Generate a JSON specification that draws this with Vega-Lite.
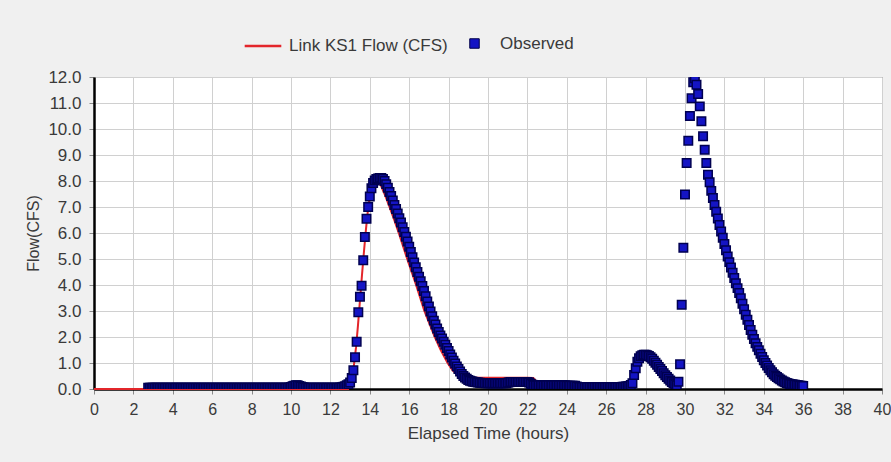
{
  "$schema": "https://vega.github.io/schema/vega-lite/v6.json",
  "width": 788,
  "height": 312,
  "autosize": {"type": "none"},
  "padding": {"left": 94, "top": 77, "right": 9, "bottom": 73},
  "background": "#f0f0f0",
  "config": {
    "view": {"fill": "white", "stroke": "#606060", "strokeWidth": 1},
    "font": "Liberation Sans",
    "axis": {
      "labelFont": "Liberation Sans",
      "titleFont": "Liberation Sans",
      "labelColor": "#3a3a3a",
      "titleColor": "#3a3a3a",
      "titleFontWeight": "normal",
      "gridColor": "#d0d0d0",
      "gridWidth": 1,
      "domainColor": "#000000",
      "domainWidth": 2.5,
      "tickColor": "#8a8a8a",
      "tickSize": 5
    },
    "legend": {
      "labelFont": "Liberation Sans",
      "labelColor": "#3a3a3a",
      "labelFontSize": 17,
      "padding": 0
    }
  },
  "datasets": {
    "model": [
      {"t":0,"v":0},{"t":12.9,"v":0},{"t":13.0,"v":0.18},{"t":13.1,"v":0.48},{"t":13.2,"v":0.95},{"t":13.3,"v":1.6},{"t":13.4,"v":2.45},{"t":13.5,"v":3.4},{"t":13.6,"v":4.35},{"t":13.7,"v":5.25},{"t":13.8,"v":6.1},{"t":13.9,"v":6.85},{"t":14.0,"v":7.4},{"t":14.1,"v":7.78},{"t":14.2,"v":7.98},{"t":14.3,"v":8.05},{"t":14.4,"v":8.02},{"t":14.55,"v":7.85},{"t":14.75,"v":7.5},{"t":15.0,"v":7.0},{"t":15.25,"v":6.48},{"t":15.47,"v":6.0},{"t":15.9,"v":5.0},{"t":16.35,"v":4.0},{"t":16.77,"v":3.0},{"t":17.3,"v":2.0},{"t":17.6,"v":1.5},{"t":17.95,"v":1.0},{"t":18.2,"v":0.72},{"t":18.45,"v":0.55},{"t":18.8,"v":0.46},{"t":19.2,"v":0.43},{"t":20.0,"v":0.43},{"t":21.0,"v":0.43},{"t":22.0,"v":0.43},{"t":22.3,"v":0.42},{"t":22.5,"v":0.25},{"t":23.0,"v":0.12},{"t":24.0,"v":0.06}
    ],
    "obs": [
      {"t":2.75,"v":0.05},{"t":2.833,"v":0.05},{"t":2.917,"v":0.05},
      {"t":3,"v":0.05},{"t":3.083,"v":0.05},{"t":3.167,"v":0.05},{"t":3.25,"v":0.05},{"t":3.333,"v":0.05},{"t":3.417,"v":0.05},{"t":3.5,"v":0.05},{"t":3.583,"v":0.05},{"t":3.667,"v":0.05},{"t":3.75,"v":0.05},{"t":3.833,"v":0.05},{"t":3.917,"v":0.05},
      {"t":4,"v":0.05},{"t":4.083,"v":0.05},{"t":4.167,"v":0.05},{"t":4.25,"v":0.05},{"t":4.333,"v":0.05},{"t":4.417,"v":0.05},{"t":4.5,"v":0.05},{"t":4.583,"v":0.05},{"t":4.667,"v":0.05},{"t":4.75,"v":0.05},{"t":4.833,"v":0.05},{"t":4.917,"v":0.05},
      {"t":5,"v":0.05},{"t":5.083,"v":0.05},{"t":5.167,"v":0.05},{"t":5.25,"v":0.05},{"t":5.333,"v":0.05},{"t":5.417,"v":0.05},{"t":5.5,"v":0.05},{"t":5.583,"v":0.05},{"t":5.667,"v":0.05},{"t":5.75,"v":0.05},{"t":5.833,"v":0.05},{"t":5.917,"v":0.05},
      {"t":6,"v":0.05},{"t":6.083,"v":0.05},{"t":6.167,"v":0.05},{"t":6.25,"v":0.05},{"t":6.333,"v":0.05},{"t":6.417,"v":0.05},{"t":6.5,"v":0.05},{"t":6.583,"v":0.05},{"t":6.667,"v":0.05},{"t":6.75,"v":0.05},{"t":6.833,"v":0.05},{"t":6.917,"v":0.05},
      {"t":7,"v":0.05},{"t":7.083,"v":0.05},{"t":7.167,"v":0.05},{"t":7.25,"v":0.05},{"t":7.333,"v":0.05},{"t":7.417,"v":0.05},{"t":7.5,"v":0.05},{"t":7.583,"v":0.05},{"t":7.667,"v":0.05},{"t":7.75,"v":0.05},{"t":7.833,"v":0.05},{"t":7.917,"v":0.05},
      {"t":8,"v":0.05},{"t":8.083,"v":0.05},{"t":8.167,"v":0.05},{"t":8.25,"v":0.05},{"t":8.333,"v":0.05},{"t":8.417,"v":0.05},{"t":8.5,"v":0.05},{"t":8.583,"v":0.05},{"t":8.667,"v":0.05},{"t":8.75,"v":0.05},{"t":8.833,"v":0.05},{"t":8.917,"v":0.05},
      {"t":9,"v":0.05},{"t":9.083,"v":0.05},{"t":9.167,"v":0.05},{"t":9.25,"v":0.05},{"t":9.333,"v":0.05},{"t":9.417,"v":0.05},{"t":9.5,"v":0.05},{"t":9.583,"v":0.05},{"t":9.667,"v":0.05},{"t":9.75,"v":0.05},{"t":9.833,"v":0.05},{"t":9.917,"v":0.06},
      {"t":10,"v":0.08},{"t":10.083,"v":0.11},{"t":10.167,"v":0.13},{"t":10.25,"v":0.14},{"t":10.333,"v":0.14},{"t":10.417,"v":0.12},{"t":10.5,"v":0.1},{"t":10.583,"v":0.08},{"t":10.667,"v":0.06},{"t":10.75,"v":0.05},{"t":10.833,"v":0.05},{"t":10.917,"v":0.05},
      {"t":11,"v":0.05},{"t":11.083,"v":0.05},{"t":11.167,"v":0.05},{"t":11.25,"v":0.05},{"t":11.333,"v":0.05},{"t":11.417,"v":0.05},{"t":11.5,"v":0.05},{"t":11.583,"v":0.05},{"t":11.667,"v":0.05},{"t":11.75,"v":0.05},{"t":11.833,"v":0.05},{"t":11.917,"v":0.05},
      {"t":12,"v":0.05},{"t":12.083,"v":0.05},{"t":12.167,"v":0.05},{"t":12.25,"v":0.05},{"t":12.333,"v":0.05},{"t":12.417,"v":0.05},{"t":12.5,"v":0.06},{"t":12.583,"v":0.07},{"t":12.667,"v":0.09},{"t":12.75,"v":0.11},{"t":12.833,"v":0.14},{"t":12.917,"v":0.18},
      {"t":13,"v":0.25},{"t":13.083,"v":0.42},{"t":13.167,"v":0.72},{"t":13.25,"v":1.22},{"t":13.333,"v":1.82},{"t":13.417,"v":2.95},{"t":13.5,"v":3.55},{"t":13.583,"v":3.97},{"t":13.667,"v":4.95},{"t":13.75,"v":5.85},{"t":13.833,"v":6.55},{"t":13.917,"v":7.0},
      {"t":14,"v":7.4},{"t":14.083,"v":7.72},{"t":14.167,"v":7.92},{"t":14.25,"v":8.02},{"t":14.333,"v":8.08},{"t":14.417,"v":8.1},{"t":14.5,"v":8.12},{"t":14.583,"v":8.12},{"t":14.667,"v":8.08},{"t":14.75,"v":8.0},{"t":14.833,"v":7.88},{"t":14.917,"v":7.74},
      {"t":15,"v":7.58},{"t":15.083,"v":7.42},{"t":15.167,"v":7.25},{"t":15.25,"v":7.08},{"t":15.333,"v":6.92},{"t":15.417,"v":6.75},{"t":15.5,"v":6.57},{"t":15.583,"v":6.4},{"t":15.667,"v":6.22},{"t":15.75,"v":6.04},{"t":15.833,"v":5.86},{"t":15.917,"v":5.67},
      {"t":16,"v":5.47},{"t":16.083,"v":5.27},{"t":16.167,"v":5.07},{"t":16.25,"v":4.87},{"t":16.333,"v":4.68},{"t":16.417,"v":4.5},{"t":16.5,"v":4.32},{"t":16.583,"v":4.14},{"t":16.667,"v":3.96},{"t":16.75,"v":3.77},{"t":16.833,"v":3.57},{"t":16.917,"v":3.37},
      {"t":17,"v":3.17},{"t":17.083,"v":2.98},{"t":17.167,"v":2.8},{"t":17.25,"v":2.63},{"t":17.333,"v":2.48},{"t":17.417,"v":2.33},{"t":17.5,"v":2.19},{"t":17.583,"v":2.06},{"t":17.667,"v":1.94},{"t":17.75,"v":1.82},{"t":17.833,"v":1.7},{"t":17.917,"v":1.58},
      {"t":18,"v":1.46},{"t":18.083,"v":1.33},{"t":18.167,"v":1.21},{"t":18.25,"v":1.09},{"t":18.333,"v":0.98},{"t":18.417,"v":0.87},{"t":18.5,"v":0.77},{"t":18.583,"v":0.67},{"t":18.667,"v":0.58},{"t":18.75,"v":0.5},{"t":18.833,"v":0.44},{"t":18.917,"v":0.39},
      {"t":19,"v":0.35},{"t":19.083,"v":0.32},{"t":19.167,"v":0.3},{"t":19.25,"v":0.28},{"t":19.333,"v":0.27},{"t":19.417,"v":0.26},{"t":19.5,"v":0.25},{"t":19.583,"v":0.24},{"t":19.667,"v":0.23},{"t":19.75,"v":0.23},{"t":19.833,"v":0.22},{"t":19.917,"v":0.22},
      {"t":20,"v":0.22},{"t":20.083,"v":0.22},{"t":20.167,"v":0.22},{"t":20.25,"v":0.22},{"t":20.333,"v":0.22},{"t":20.417,"v":0.22},{"t":20.5,"v":0.22},{"t":20.583,"v":0.22},{"t":20.667,"v":0.22},{"t":20.75,"v":0.22},{"t":20.833,"v":0.22},{"t":20.917,"v":0.22},
      {"t":21,"v":0.24},{"t":21.083,"v":0.26},{"t":21.167,"v":0.27},{"t":21.25,"v":0.27},{"t":21.333,"v":0.27},{"t":21.417,"v":0.27},{"t":21.5,"v":0.27},{"t":21.583,"v":0.27},{"t":21.667,"v":0.27},{"t":21.75,"v":0.27},{"t":21.833,"v":0.27},{"t":21.917,"v":0.27},
      {"t":22,"v":0.27},{"t":22.083,"v":0.25},{"t":22.167,"v":0.2},{"t":22.25,"v":0.16},{"t":22.333,"v":0.14},{"t":22.417,"v":0.14},{"t":22.5,"v":0.14},{"t":22.583,"v":0.14},{"t":22.667,"v":0.14},{"t":22.75,"v":0.14},{"t":22.833,"v":0.14},{"t":22.917,"v":0.14},
      {"t":23,"v":0.14},{"t":23.083,"v":0.14},{"t":23.167,"v":0.14},{"t":23.25,"v":0.14},{"t":23.333,"v":0.14},{"t":23.417,"v":0.14},{"t":23.5,"v":0.14},{"t":23.583,"v":0.14},{"t":23.667,"v":0.14},{"t":23.75,"v":0.14},{"t":23.833,"v":0.14},{"t":23.917,"v":0.14},
      {"t":24,"v":0.13},{"t":24.083,"v":0.13},{"t":24.167,"v":0.13},{"t":24.25,"v":0.13},{"t":24.333,"v":0.13},{"t":24.417,"v":0.13},{"t":24.5,"v":0.1},{"t":24.583,"v":0.08},{"t":24.667,"v":0.08},{"t":24.75,"v":0.08},{"t":24.833,"v":0.08},{"t":24.917,"v":0.08},
      {"t":25,"v":0.08},{"t":25.083,"v":0.08},{"t":25.167,"v":0.08},{"t":25.25,"v":0.08},{"t":25.333,"v":0.08},{"t":25.417,"v":0.08},{"t":25.5,"v":0.08},{"t":25.583,"v":0.08},{"t":25.667,"v":0.08},{"t":25.75,"v":0.08},{"t":25.833,"v":0.08},{"t":25.917,"v":0.08},
      {"t":26,"v":0.08},{"t":26.083,"v":0.08},{"t":26.167,"v":0.08},{"t":26.25,"v":0.08},{"t":26.333,"v":0.08},{"t":26.417,"v":0.08},{"t":26.5,"v":0.08},{"t":26.583,"v":0.08},{"t":26.667,"v":0.08},{"t":26.75,"v":0.08},{"t":26.833,"v":0.09},{"t":26.917,"v":0.09},
      {"t":27,"v":0.1},{"t":27.083,"v":0.11},{"t":27.167,"v":0.12},{"t":27.25,"v":0.15},{"t":27.333,"v":0.22},{"t":27.417,"v":0.54},{"t":27.5,"v":0.8},{"t":27.583,"v":1.05},{"t":27.667,"v":1.18},{"t":27.75,"v":1.26},{"t":27.833,"v":1.3},{"t":27.917,"v":1.32},
      {"t":28,"v":1.32},{"t":28.083,"v":1.3},{"t":28.167,"v":1.27},{"t":28.25,"v":1.22},{"t":28.333,"v":1.16},{"t":28.417,"v":1.09},{"t":28.5,"v":1.01},{"t":28.583,"v":0.93},{"t":28.667,"v":0.85},{"t":28.75,"v":0.77},{"t":28.833,"v":0.69},{"t":28.917,"v":0.61},
      {"t":29,"v":0.53},{"t":29.083,"v":0.46},{"t":29.167,"v":0.39},{"t":29.25,"v":0.33},{"t":29.333,"v":0.27},{"t":29.417,"v":0.22},{"t":29.5,"v":0.18},{"t":29.583,"v":0.14},{"t":29.667,"v":0.28},{"t":29.75,"v":0.95},{"t":29.833,"v":3.24},{"t":29.917,"v":5.43},
      {"t":30,"v":7.48},{"t":30.083,"v":8.69},{"t":30.167,"v":9.55},{"t":30.25,"v":10.5},{"t":30.333,"v":11.18},{"t":30.417,"v":11.8},{"t":30.5,"v":11.95},{"t":30.583,"v":11.7},{"t":30.667,"v":11.35},{"t":30.75,"v":10.87},{"t":30.833,"v":10.3},{"t":30.917,"v":9.72},
      {"t":31,"v":9.2},{"t":31.083,"v":8.69},{"t":31.167,"v":8.24},{"t":31.25,"v":7.95},{"t":31.333,"v":7.62},{"t":31.417,"v":7.35},{"t":31.5,"v":7.08},{"t":31.583,"v":6.82},{"t":31.667,"v":6.56},{"t":31.75,"v":6.31},{"t":31.833,"v":6.06},{"t":31.917,"v":5.82},
      {"t":32,"v":5.58},{"t":32.083,"v":5.34},{"t":32.167,"v":5.1},{"t":32.25,"v":4.88},{"t":32.333,"v":4.67},{"t":32.417,"v":4.47},{"t":32.5,"v":4.27},{"t":32.583,"v":4.07},{"t":32.667,"v":3.88},{"t":32.75,"v":3.69},{"t":32.833,"v":3.49},{"t":32.917,"v":3.28},
      {"t":33,"v":3.07},{"t":33.083,"v":2.86},{"t":33.167,"v":2.66},{"t":33.25,"v":2.46},{"t":33.333,"v":2.27},{"t":33.417,"v":2.09},{"t":33.5,"v":1.92},{"t":33.583,"v":1.76},{"t":33.667,"v":1.62},{"t":33.75,"v":1.49},{"t":33.833,"v":1.36},{"t":33.917,"v":1.23},
      {"t":34,"v":1.11},{"t":34.083,"v":1.0},{"t":34.167,"v":0.9},{"t":34.25,"v":0.81},{"t":34.333,"v":0.72},{"t":34.417,"v":0.64},{"t":34.5,"v":0.57},{"t":34.583,"v":0.51},{"t":34.667,"v":0.46},{"t":34.75,"v":0.41},{"t":34.833,"v":0.37},{"t":34.917,"v":0.33},
      {"t":35,"v":0.29},{"t":35.083,"v":0.26},{"t":35.167,"v":0.23},{"t":35.25,"v":0.21},{"t":35.333,"v":0.19},{"t":35.417,"v":0.18},{"t":35.5,"v":0.17},{"t":35.583,"v":0.16},{"t":35.667,"v":0.15},{"t":35.75,"v":0.14},{"t":35.833,"v":0.13},{"t":35.917,"v":0.13},
      {"t":36,"v":0.12}
    ]
  },
  "encoding": {
    "x": {
      "field": "t",
      "type": "quantitative",
      "scale": {"domain": [0, 40], "nice": false, "zero": false},
      "axis": {
        "values": [0,2,4,6,8,10,12,14,16,18,20,22,24,26,28,30,32,34,36,38,40],
        "title": "Elapsed Time (hours)",
        "labelFontSize": 16,
        "titleFontSize": 17,
        "labelPadding": 7,
        "titlePadding": 8,
        "labelFlush": false,
        "labelOverlap": false
      }
    },
    "y": {
      "field": "v",
      "type": "quantitative",
      "scale": {"domain": [0, 12], "nice": false},
      "axis": {
        "values": [0,1,2,3,4,5,6,7,8,9,10,11,12],
        "format": ".1f",
        "title": "Flow(CFS)",
        "labelFontSize": 17,
        "titleFontSize": 16,
        "labelPadding": 8,
        "titlePadding": 6,
        "labelFlush": false,
        "labelOverlap": false
      }
    }
  },
  "layer": [
    {
      "data": {"name": "model"},
      "mark": {"type": "line", "strokeWidth": 2},
      "encoding": {
        "stroke": {
          "datum": "Link KS1 Flow (CFS)",
          "type": "nominal",
          "scale": {"range": ["#e3262b"]},
          "legend": {
            "orient": "none",
            "legendX": 149,
            "legendY": -51,
            "title": null,
            "symbolType": "stroke",
            "symbolSize": 1340,
            "symbolStrokeWidth": 2.5,
            "labelOffset": 6
          }
        }
      }
    },
    {
      "data": {"name": "obs"},
      "mark": {"type": "point", "shape": "square", "filled": true, "size": 72, "stroke": "#000050", "strokeWidth": 1.5, "opacity": 1, "clip": true},
      "encoding": {
        "fill": {
          "datum": "Observed",
          "type": "nominal",
          "scale": {"range": ["#1414c4"]},
          "legend": {
            "orient": "none",
            "legendX": 372,
            "legendY": -42,
            "title": null,
            "symbolType": "square",
            "symbolSize": 90,
            "symbolStrokeColor": "#00004a",
            "symbolStrokeWidth": 1,
            "labelOffset": 17
          }
        }
      }
    }
  ]
}
